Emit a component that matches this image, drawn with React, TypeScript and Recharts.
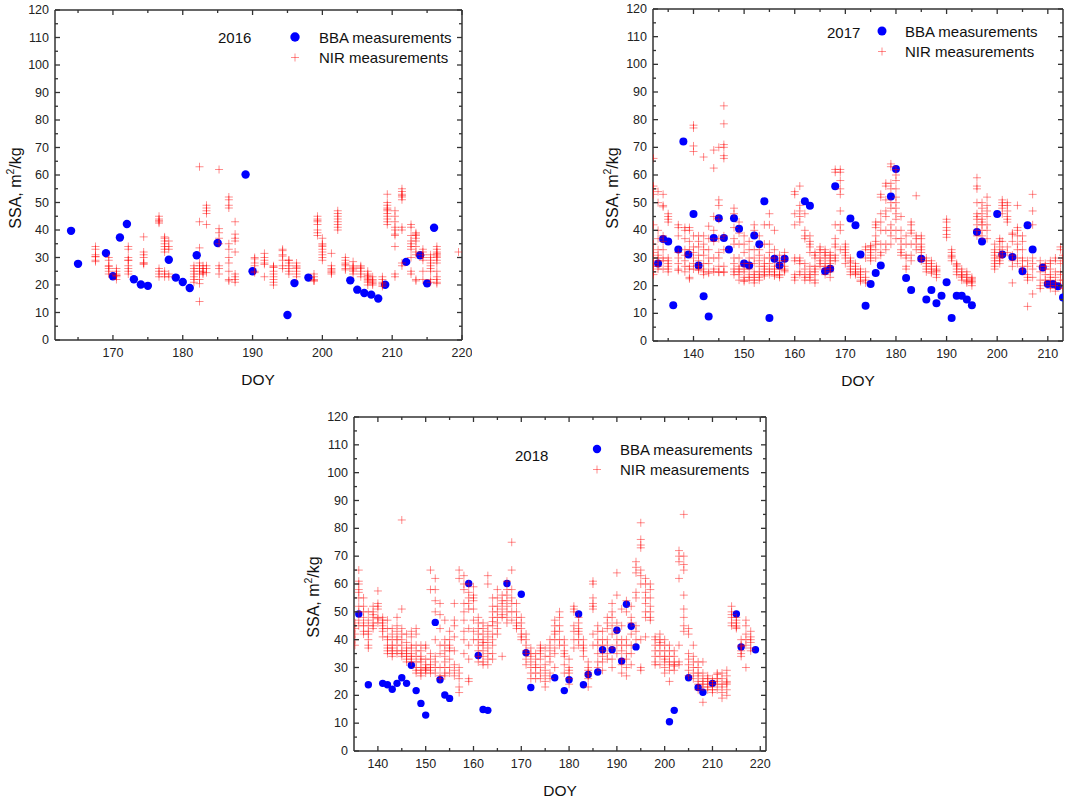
import React from 'react';
import { ScatterChart, Scatter, XAxis, YAxis } from 'recharts';

const FONT = '"Liberation Sans", Arial, Helvetica, sans-serif';
const AXIS = '#333';
const BLUE = '#0000ff';
const RED = '#ff0000';

const yTicks = [0, 5, 10, 15, 20, 25, 30, 35, 40, 45, 50, 55, 60, 65, 70, 75, 80, 85, 90, 95, 100, 105, 110, 115, 120];
const xTicks2016 = [165, 170, 175, 180, 185, 190, 195, 200, 205, 210, 215, 220];
const xTicks2017 = [135, 140, 145, 150, 155, 160, 165, 170, 175, 180, 185, 190, 195, 200, 205, 210];
const xTicks2018 = [140, 145, 150, 155, 160, 165, 170, 175, 180, 185, 190, 195, 200, 205, 210, 215, 220];

// BBA measurements [DOY, SSA]
const bba2016: [number, number][] = [
  [164, 39.7], [165, 27.7], [169, 31.6], [170, 23.2], [171, 37.3], [172, 42.2], [173, 22.1], [174, 20.2],
  [175, 19.7], [178, 29.2], [179, 22.7], [180, 21.1], [181, 18.9], [182, 30.8], [185, 35.3], [189, 60.2],
  [190, 25.0], [195, 9.1], [196, 20.7], [198, 22.7], [204, 21.7], [205, 18.3], [206, 17.1], [207, 16.5],
  [208, 15.1], [209, 20.1], [212, 28.4], [214, 30.8], [215, 20.6], [216, 40.8],
];
const bba2017: [number, number][] = [
  [133, 28.0], [134, 36.9], [135, 36.0], [136, 12.9], [137, 33.1], [138, 72.1], [139, 31.3], [140, 45.9],
  [141, 27.3], [142, 16.2], [143, 8.9], [144, 37.2], [145, 44.4], [146, 37.2], [147, 33.1], [148, 44.4],
  [149, 40.6], [150, 28.0], [151, 27.3], [152, 38.1], [153, 35.0], [154, 50.5], [155, 8.3], [156, 29.7],
  [157, 27.3], [158, 29.7], [162, 50.5], [163, 48.9], [166, 25.2], [167, 26.1], [168, 55.9], [171, 44.3],
  [172, 41.8], [173, 31.3], [174, 12.7], [175, 20.6], [176, 24.6], [177, 27.3], [179, 52.2], [180, 62.2],
  [182, 22.8], [183, 18.4], [185, 29.7], [186, 15.0], [187, 18.4], [188, 13.6], [189, 16.4], [190, 21.2],
  [191, 8.3], [192, 16.4], [193, 16.4], [194, 15.0], [195, 12.9], [196, 39.4], [197, 36.0], [200, 45.9],
  [201, 31.3], [203, 30.4], [205, 25.2], [206, 41.8], [207, 33.1], [209, 26.6], [210, 20.6], [211, 20.6],
  [212, 19.8], [213, 15.7],
];
const bba2018: [number, number][] = [
  [136, 49.2], [138, 23.8], [141, 24.3], [142, 23.8], [143, 22.2], [144, 24.3], [145, 26.3], [146, 24.3],
  [147, 30.8], [148, 21.7], [149, 17.1], [150, 12.9], [152, 46.2], [153, 25.6], [154, 20.1], [155, 18.9],
  [159, 60.2], [161, 34.3], [162, 14.9], [163, 14.6], [167, 60.2], [170, 56.3], [171, 35.3], [172, 22.8],
  [177, 26.3], [179, 21.7], [180, 25.6], [182, 49.2], [183, 23.8], [184, 27.5], [186, 28.4], [187, 36.4],
  [189, 36.4], [190, 43.4], [191, 32.3], [192, 52.7], [193, 44.8], [194, 37.4], [201, 10.5], [202, 14.6],
  [205, 26.3], [207, 22.8], [208, 21.1], [210, 24.3], [215, 49.2], [216, 37.4], [219, 36.4],
];

// NIR measurements [DOY, SSA values measured that day]
const nir2016: [number, number[]][] = [
  [167.5, [34, 33, 31, 30.3, 30.3, 29, 28.5]],
  [169.4, [30, 29, 27, 26.8, 26, 25, 24]],
  [170.5, [26, 25, 24, 23.5, 23.5, 23, 22]],
  [172.2, [34, 33, 30, 29, 29, 27, 26, 25, 24]],
  [174.4, [37.5, 32, 31, 30, 28, 28, 27.5]],
  [176.6, [45, 44, 43.5, 43, 42.5, 26, 25, 24, 23]],
  [177.4, [37.5, 37, 36, 35, 34, 33, 32, 25, 24, 23]],
  [178.0, [36, 34, 33, 24, 23]],
  [181.6, [27, 26, 25, 24, 23, 22, 21]],
  [182.4, [63, 43, 33.5, 28, 27, 26, 25, 24, 22, 20.5, 14]],
  [182.9, [27, 26, 25, 24.5, 24]],
  [183.4, [49, 48, 47, 46, 42, 27, 26, 24.5]],
  [185.2, [62, 40.5, 39, 37, 35, 27, 26, 24]],
  [186.6, [52, 51, 49, 48, 35, 33, 30, 28, 25, 22, 21.5]],
  [187.5, [43, 38.5, 37, 36, 32, 24, 23, 22, 21]],
  [190.3, [30, 29.5, 28, 27, 25, 24.5]],
  [191.7, [31.5, 30, 29, 28, 27.5, 23]],
  [193.0, [27, 26.5, 26.5, 25, 24, 23, 22, 21, 20]],
  [194.3, [33, 32.5, 31, 30.5, 29, 27, 26]],
  [195.2, [29, 29, 28, 27, 26, 25, 24]],
  [196.3, [28, 27, 26.5, 26, 25, 24, 23]],
  [198.8, [24, 23, 22, 21.5, 21.5]],
  [199.3, [45, 44, 43.5, 43, 42, 40, 39, 38]],
  [200.0, [37, 35, 34.5, 34, 33, 32, 31, 30, 29]],
  [201.3, [31.5, 27, 26, 25.5, 25, 24.5, 24]],
  [202.2, [47, 46, 45, 44, 43, 42, 41, 40]],
  [203.3, [30, 29, 28, 27.5, 27, 26, 25.5]],
  [204.4, [28.5, 27, 26.5, 26, 25.5, 25, 24]],
  [205.5, [27, 26.5, 26, 25, 24, 23]],
  [206.5, [25, 24, 23.5, 23, 22.5, 22, 21.5, 21, 20]],
  [207.2, [23, 22, 21.5, 21, 20.5, 20]],
  [208.6, [23, 22, 21, 20.5, 20, 19.5]],
  [209.3, [53, 50, 49, 48, 47.5, 47, 46, 45, 44, 43, 42]],
  [210.4, [47, 45, 43, 41, 40, 38.5, 38, 34, 24, 23]],
  [211.4, [55, 54, 53, 52.5, 52, 51, 41, 40, 28, 27]],
  [212.7, [42, 41, 38, 36, 35, 34, 33, 30, 25, 24]],
  [213.4, [39, 38.5, 38, 37, 36, 34, 32, 31, 22, 21.5]],
  [214.4, [33, 32, 31, 30, 29, 25, 22]],
  [215.5, [31, 30, 29, 28, 27, 26, 25, 22, 21]],
  [216.4, [34, 33, 32, 31.5, 31, 30.5, 30, 29, 28, 25, 23, 22, 21, 20.5]],
  [219.5, [32]],
];
const nir2017: [number, number[]][] = [
  [132.1, [66, 56, 55, 53, 42, 35, 32, 30, 28, 27, 25, 24]],
  [133.0, [54, 50, 40, 37, 33, 31, 30, 29, 27, 26]],
  [134.0, [53, 49, 48.5, 38, 36, 33, 30, 29, 26]],
  [135.0, [46, 45, 44, 43, 30, 29, 28, 27, 26, 25]],
  [137.0, [42, 41, 38, 32, 30, 28, 26, 25.5]],
  [138.3, [41, 40, 37, 33, 31, 29, 27, 25]],
  [139.2, [41, 40, 36, 33, 27, 26, 23, 22.5]],
  [140.0, [78, 77, 70.5, 68.5, 38, 34, 32, 30, 28, 26]],
  [141.0, [38, 36, 34, 31, 29, 27, 26, 25.5]],
  [142.0, [66.5, 38, 35, 33, 31, 28, 26, 25, 24]],
  [143.0, [41.5, 37, 33, 30, 28, 25, 24.5]],
  [144.0, [69, 62.5, 45, 40, 36, 30, 26, 25]],
  [145.0, [70, 51, 49, 44, 37, 32, 30, 27, 25, 24.8]],
  [146.0, [85, 78.5, 71, 70, 67, 66, 38, 33, 27, 25, 24.8]],
  [148.0, [48, 46, 41, 37, 35, 30, 28, 26, 25, 24]],
  [149.0, [43, 39, 35, 30, 27, 26, 25, 24, 22]],
  [150.0, [38, 35, 32, 28, 26, 25, 23, 22, 21.5]],
  [151.0, [36, 33, 30, 28, 26, 24, 23, 22]],
  [152.0, [42, 40, 33, 30, 28, 25, 24, 23, 22, 21]],
  [153.0, [38, 33, 31, 29, 27, 25, 24, 23, 22]],
  [154.0, [42, 35, 30, 28, 27, 26, 25, 24, 23.5]],
  [155.0, [46, 42, 35, 32, 30, 28, 26, 25, 24]],
  [156.0, [40, 33, 30, 27, 26, 25, 24, 23.5]],
  [157.0, [31, 29, 28, 26, 24, 23.8, 23]],
  [158.0, [32, 30, 29, 27, 26, 25.5, 25]],
  [160.0, [54, 53, 46, 42, 30, 29, 24, 23, 22]],
  [161.0, [56, 49, 47, 45, 43, 30, 29, 28, 25, 24]],
  [162.0, [46, 40, 38, 37, 28, 26, 24, 23, 22]],
  [163.0, [38, 36, 35, 34, 32, 27, 25, 24, 23, 22]],
  [164.0, [32, 31, 30, 27, 26, 25, 24, 22, 21]],
  [165.0, [34, 33, 32, 30, 29, 28, 27]],
  [166.0, [33, 32, 31, 30, 28, 27, 26, 24]],
  [167.0, [32, 31, 30, 29, 28, 27, 26, 25, 23]],
  [168.0, [62, 61, 42, 37, 35, 34, 31, 30, 29]],
  [169.0, [62, 61, 58, 55, 53, 47, 42, 40, 33]],
  [170.0, [35, 34, 33, 32, 31, 30, 28]],
  [171.0, [30, 29, 28.5, 27, 26, 25, 24]],
  [172.0, [28, 27, 26, 25, 24.5, 24]],
  [173.0, [26, 25, 24, 23, 22, 21.5]],
  [174.0, [34, 33, 30, 25, 23, 22, 21]],
  [175.0, [34.5, 34, 33, 32, 31, 30, 29]],
  [176.0, [43, 42, 41, 38, 36, 35, 33, 30]],
  [177.0, [53, 52, 46, 43, 40, 35, 32, 31]],
  [178.0, [57, 56, 51, 47, 45, 40, 35, 33]],
  [179.0, [64, 63, 57, 55, 50, 48, 42, 40, 38, 35]],
  [180.0, [62, 60, 58, 55, 52, 50, 48, 46, 44, 40, 37]],
  [181.0, [45, 40, 37, 35, 33, 32, 31]],
  [182.0, [38, 35, 31, 30, 27, 26]],
  [183.0, [43, 42, 40, 39, 35, 31, 29]],
  [184.0, [52.5, 38, 37, 35, 33]],
  [185.0, [38, 37, 35, 34, 33, 32, 30, 29]],
  [186.0, [30, 29, 28, 27, 26, 25]],
  [187.0, [29, 28, 27, 26, 25, 24.5]],
  [188.0, [27, 26, 25.5, 25, 24, 23]],
  [190.0, [44, 43, 41, 40, 38.5, 37.5]],
  [191.0, [33, 32, 31, 30.5, 30, 29]],
  [192.0, [28, 27.5, 27, 26, 25, 24]],
  [193.0, [26, 25, 24, 23.5, 23, 22]],
  [194.0, [25, 24, 23, 22, 21.5, 21]],
  [195.0, [23, 22.5, 22, 21.5, 21, 20]],
  [196.0, [59, 56, 55, 50, 46, 45, 44, 42, 40, 38]],
  [197.0, [50, 48, 46, 44, 43, 42, 40, 38]],
  [198.0, [52, 49, 47, 45, 42, 40, 37]],
  [199.5, [35, 33, 32, 31, 30, 29, 28, 27, 26]],
  [200.5, [37, 36, 34, 32, 30.5, 30, 29, 28]],
  [201.0, [51, 50, 49, 48, 46, 36, 33, 31]],
  [202.0, [50, 49, 47, 45, 44, 43, 34, 32]],
  [203.0, [39, 38.5, 36, 31, 29, 27, 21]],
  [204.0, [49, 41, 40, 38, 35, 33, 30, 28]],
  [205.0, [38, 36, 33, 30, 29, 27, 26]],
  [206.0, [29, 27, 24, 23, 22, 12.5]],
  [207.0, [53, 47, 42, 30, 28, 26, 23, 17]],
  [208.5, [29, 27, 25, 22, 20, 19]],
  [209.5, [28, 27, 26, 24, 22, 21]],
  [210.5, [29, 28, 26, 24, 23, 22, 20, 19]],
  [211.5, [30, 29, 25, 23, 21, 20, 18]],
  [212.5, [34, 33, 28, 25, 24, 22, 20]],
  [213.0, [31, 30, 29, 22, 20, 19]],
];
const nir2018: [number, number[]][] = [
  [135.2, [46, 44, 42, 40, 38]],
  [136.0, [65, 61, 60, 58, 57, 55, 52, 50, 47, 45]],
  [137.0, [55, 52, 50, 48, 46, 45, 43, 42]],
  [138.0, [50, 47, 45, 43, 42, 40, 38, 37]],
  [139.0, [52, 50, 49, 48, 46, 45, 44]],
  [140.0, [57.5, 53, 52, 51, 48, 47.5, 46]],
  [141.0, [48, 47, 46, 45, 44, 43, 41]],
  [142.0, [47, 44, 41, 40, 38, 37, 36, 35]],
  [143.0, [44, 42, 40, 38, 37, 36, 35, 34]],
  [144.0, [48, 45, 43, 41, 40, 38, 36, 35]],
  [145.0, [83, 51, 44, 42, 40, 38, 36, 35, 34]],
  [146.0, [42, 39, 37, 36, 35, 34, 33, 32]],
  [147.0, [43, 41, 38, 37, 35, 34, 33, 32]],
  [148.0, [44, 42, 38, 36, 34, 32, 30, 29, 28]],
  [149.0, [38, 36, 34, 33, 32, 30, 29, 28, 27]],
  [150.0, [38, 37, 33, 31, 30, 29.5, 29, 28]],
  [151.0, [65, 58, 35, 33, 31, 30, 29, 28]],
  [152.0, [62, 58, 54, 50, 40, 34, 32, 30, 28]],
  [153.0, [53, 49, 44, 38, 35, 30, 27, 26]],
  [154.0, [47, 40, 38, 36, 34, 32, 30, 28, 27]],
  [155.0, [43, 40, 38, 37, 36, 33, 30, 28]],
  [156.0, [53, 47, 45, 41, 36, 31, 29, 27]],
  [157.0, [65, 62, 30, 28, 26, 23, 21]],
  [158.0, [63, 60, 58, 53, 50, 47, 43, 40, 35]],
  [159.0, [60, 57, 55, 53, 51, 44, 38, 33, 26, 25]],
  [160.0, [59, 56, 55, 54, 51, 47, 43, 40]],
  [161.0, [48, 46, 44, 42, 40, 38, 36, 34, 32]],
  [162.0, [46, 44, 42, 40, 39, 38, 36, 34, 32, 31]],
  [163.0, [63, 60, 45, 43, 41, 39, 37, 35, 33, 31]],
  [164.0, [55, 52, 50, 48, 46.5, 45, 42, 40, 38, 35, 33]],
  [165.0, [58, 55, 52, 50, 48, 46, 44, 42]],
  [166.0, [56, 54, 53, 51, 49, 48, 34]],
  [167.0, [61, 58, 56, 54, 52, 50, 48, 46]],
  [168.0, [75, 65, 58, 55, 53, 50, 47]],
  [169.0, [53, 50, 48, 46, 45, 44]],
  [170.0, [48, 46, 44, 42, 41, 40]],
  [171.0, [42, 40, 38, 36, 35, 33, 31]],
  [172.0, [37, 35, 34, 32, 30, 28, 26]],
  [173.0, [35, 33, 31, 30, 28, 26]],
  [174.0, [38, 37, 36, 35, 33, 30, 28, 26]],
  [175.0, [37, 34, 31, 29, 27, 25, 23]],
  [176.0, [40, 38, 36, 34, 32, 28, 26]],
  [177.0, [47, 45, 43, 42, 40, 37, 35, 30]],
  [178.0, [50, 48, 45, 43, 40, 38]],
  [179.0, [40, 38, 36, 35, 34, 31, 28]],
  [180.0, [33, 30, 29, 28, 26, 24]],
  [181.0, [52, 51, 50, 45, 43, 40, 37]],
  [182.0, [48, 46, 44, 43, 42, 40, 38]],
  [183.0, [40, 38, 37, 36, 34]],
  [184.0, [32, 30, 29, 28, 27, 26, 23]],
  [185.0, [61, 60, 55, 53, 52, 51, 42, 38]],
  [186.0, [45, 43, 40, 38, 35, 32, 30]],
  [187.0, [43, 40, 38, 36, 34, 32, 29]],
  [188.0, [48, 46, 44, 40, 38, 35, 33]],
  [189.0, [53, 50, 48, 45, 42, 37, 33, 30]],
  [190.0, [64, 56, 46, 43, 40, 38, 35]],
  [191.0, [51, 45, 40, 38, 36, 33, 31, 28]],
  [192.0, [54, 50, 40, 38, 35, 33, 30, 27]],
  [193.0, [52, 48, 46, 42, 38, 35, 31]],
  [194.0, [68, 66, 64, 57, 55, 45, 43, 40]],
  [195.0, [82, 76, 74, 73, 65, 63, 60, 40, 30, 29]],
  [196.0, [62, 60, 57, 55, 53, 50, 48, 41]],
  [197.0, [60, 58, 55, 52, 50, 48, 47]],
  [198.0, [41, 40, 38, 36, 34, 32, 31]],
  [199.0, [42, 40, 39, 38, 36, 34, 31]],
  [200.0, [40, 38, 36, 34, 33, 32, 30, 28]],
  [201.0, [38, 36, 34, 32, 31, 29, 25]],
  [202.0, [36, 34, 32, 31, 30.5, 29]],
  [203.0, [72, 70, 68, 62, 38, 32, 31]],
  [204.0, [85, 70, 67, 65, 56, 51, 48, 45, 43]],
  [205.0, [44, 42, 35, 33, 31, 29, 27]],
  [206.0, [38, 34, 32, 30, 28, 26]],
  [207.0, [32, 30, 28, 27, 25, 24, 22]],
  [208.0, [32, 28, 26, 25, 24, 23, 17.5]],
  [209.0, [27, 26, 25, 24, 23, 22]],
  [210.0, [26, 25, 24, 23, 22, 21]],
  [211.0, [28, 27.5, 26, 25, 24, 22]],
  [212.0, [28, 26, 24, 23, 21, 19]],
  [213.0, [29, 27, 25, 24.5, 24, 22, 20]],
  [214.0, [52, 50, 49, 48, 46, 45]],
  [215.0, [48, 47, 46, 45, 44.5, 44]],
  [216.0, [40, 38, 37.5, 36, 35, 34]],
  [217.0, [47, 45, 42, 40, 38, 30]],
  [218.0, [43, 41, 40, 39, 37, 36]],
];

const toPts = (a: [number, number][]) => a.map(([x, y]) => ({ x, y }));
const toNirPts = (a: [number, number[]][]) => a.flatMap(([x, vs]) => vs.map((y) => ({ x, y })));

const TickBottom = (p: any) => {
  const v = p.payload.value;
  const major = v % 10 === 0;
  return (
    <g>
      <line x1={p.x} x2={p.x} y1={p.y} y2={p.y - (major ? 5 : 3)} stroke={AXIS} strokeWidth={1.3} />
      {major && (
        <text x={p.x} y={p.y + 13} textAnchor="middle" dominantBaseline="central" fontSize={12.5} fontFamily={FONT} fill="#222">
          {v}
        </text>
      )}
    </g>
  );
};
const TickTop = (p: any) => {
  const v = p.payload.value;
  const major = v % 10 === 0;
  return <line x1={p.x} x2={p.x} y1={p.y} y2={p.y + (major ? 5 : 3)} stroke={AXIS} strokeWidth={1.3} />;
};
const TickLeft = (p: any) => {
  const v = p.payload.value;
  const major = v % 10 === 0;
  return (
    <g>
      <line x1={p.x} x2={p.x + (major ? 5 : 3)} y1={p.y} y2={p.y} stroke={AXIS} strokeWidth={1.3} />
      {major && (
        <text x={p.x - 6} y={p.y} textAnchor="end" dominantBaseline="central" fontSize={12.5} fontFamily={FONT} fill="#222">
          {v}
        </text>
      )}
    </g>
  );
};
const TickRight = (p: any) => {
  const v = p.payload.value;
  const major = v % 10 === 0;
  return <line x1={p.x} x2={p.x - (major ? 5 : 3)} y1={p.y} y2={p.y} stroke={AXIS} strokeWidth={1.3} />;
};

const plusShape = (p: any) => (
  <path d={`M${p.cx - 4},${p.cy}h8M${p.cx},${p.cy - 4}v8`} stroke={RED} strokeOpacity={0.45} strokeWidth={1} fill="none" />
);
const makeDot = (r: number) => (p: any) => <circle cx={p.cx} cy={p.cy} r={r} fill={BLUE} />;

type PanelProps = {
  plotLeft: number; plotTop: number; plotW: number; plotH: number;
  xDomain: [number, number]; xTicks: number[];
  bba: [number, number][]; nir: [number, number[]][];
  dotR: number; year: string;
  yearPos: [number, number]; legendPos: [number, number]; legendText: number;
  yTitle: [number, number]; xTitle: [number, number];
};

const ML = 60, MT = 20, MR = 10, MB = 50;

function Panel(pp: PanelProps) {
  const W = pp.plotW + ML + MR;
  const H = pp.plotH + MT + MB;
  const axisLine = { stroke: AXIS, strokeWidth: 1.5 };
  return (
    <>
      <div style={{ position: 'absolute', left: pp.plotLeft - ML, top: pp.plotTop - MT }}>
        <ScatterChart width={W} height={H} margin={{ top: MT - 2, right: MR - 2, bottom: MB - 30, left: ML - 40 }}>
          <XAxis xAxisId="b" type="number" dataKey="x" orientation="bottom" domain={pp.xDomain} ticks={pp.xTicks}
            allowDataOverflow interval={0} height={30} tickSize={0} tickMargin={0} tickLine={false}
            axisLine={axisLine} tick={<TickBottom />} />
          <XAxis xAxisId="t" type="number" dataKey="x" orientation="top" domain={pp.xDomain} ticks={pp.xTicks}
            allowDataOverflow interval={0} height={2} tickSize={0} tickMargin={0} tickLine={false}
            axisLine={axisLine} tick={<TickTop />} />
          <YAxis yAxisId="l" type="number" dataKey="y" orientation="left" domain={[0, 120]} ticks={yTicks}
            allowDataOverflow interval={0} width={40} tickSize={0} tickMargin={0} tickLine={false}
            axisLine={axisLine} tick={<TickLeft />} />
          <YAxis yAxisId="r" type="number" dataKey="y" orientation="right" domain={[0, 120]} ticks={yTicks}
            allowDataOverflow interval={0} width={2} tickSize={0} tickMargin={0} tickLine={false}
            axisLine={axisLine} tick={<TickRight />} />
          <Scatter name="BBA measurements" data={toPts(pp.bba)} xAxisId="b" yAxisId="l" shape={makeDot(pp.dotR)} isAnimationActive={false} />
          <Scatter name="NIR measurements" data={toNirPts(pp.nir)} xAxisId="b" yAxisId="l" shape={plusShape} isAnimationActive={false} />
          <Scatter data={[]} xAxisId="t" yAxisId="r" isAnimationActive={false} />
        </ScatterChart>
      </div>
      <svg width={1065} height={799} style={{ position: 'absolute', left: 0, top: 0, pointerEvents: 'none' }}>
        <g fontFamily={FONT} fill="#111">
          <text x={pp.yearPos[0]} y={pp.yearPos[1]} fontSize={15} dominantBaseline="central">{pp.year}</text>
          <circle cx={pp.legendPos[0]} cy={pp.legendPos[1]} r={pp.dotR + 0.5} fill={BLUE} />
          <text x={pp.legendText} y={pp.legendPos[1]} fontSize={15} dominantBaseline="central">BBA measurements</text>
          <path d={`M${pp.legendPos[0] - 4},${pp.legendPos[1] + 20.5}h8M${pp.legendPos[0]},${pp.legendPos[1] + 16.5}v8`}
            stroke={RED} strokeOpacity={0.45} strokeWidth={1} />
          <text x={pp.legendText} y={pp.legendPos[1] + 20.5} fontSize={15} dominantBaseline="central">NIR measurements</text>
          <text x={pp.xTitle[0]} y={pp.xTitle[1]} fontSize={15.5} textAnchor="middle" dominantBaseline="central">DOY</text>
          <text transform={`translate(${pp.yTitle[0]},${pp.yTitle[1]}) rotate(-90)`} fontSize={16} textAnchor="middle" dominantBaseline="central">
            SSA, m<tspan dy={-5} fontSize={10.5}>2</tspan><tspan dy={5}>/kg</tspan>
          </text>
        </g>
      </svg>
    </>
  );
}

export default function App() {
  return (
    <div style={{ position: 'absolute', left: 0, top: 0, width: 1065, height: 799, overflow: 'hidden', background: '#fff' }}>
      <Panel plotLeft={55} plotTop={10} plotW={407} plotH={330} xDomain={[161.7, 220]} xTicks={xTicks2016}
        bba={bba2016} nir={nir2016} dotR={4.2} year="2016" yearPos={[218, 37]} legendPos={[295, 37]} legendText={319}
        yTitle={[15, 188]} xTitle={[258, 379]} />
      <Panel plotLeft={653} plotTop={9} plotW={410} plotH={332} xDomain={[132, 213]} xTicks={xTicks2017}
        bba={bba2017} nir={nir2017} dotR={4} year="2017" yearPos={[827, 32]} legendPos={[882, 31]} legendText={905}
        yTitle={[612, 188]} xTitle={[858, 380]} />
      <Panel plotLeft={354} plotTop={417} plotW={412} plotH={334} xDomain={[135, 221.2]} xTicks={xTicks2018}
        bba={bba2018} nir={nir2018} dotR={3.7} year="2018" yearPos={[515, 455]} legendPos={[597, 449]} legendText={620}
        yTitle={[313, 597]} xTitle={[560, 790]} />
    </div>
  );
}
